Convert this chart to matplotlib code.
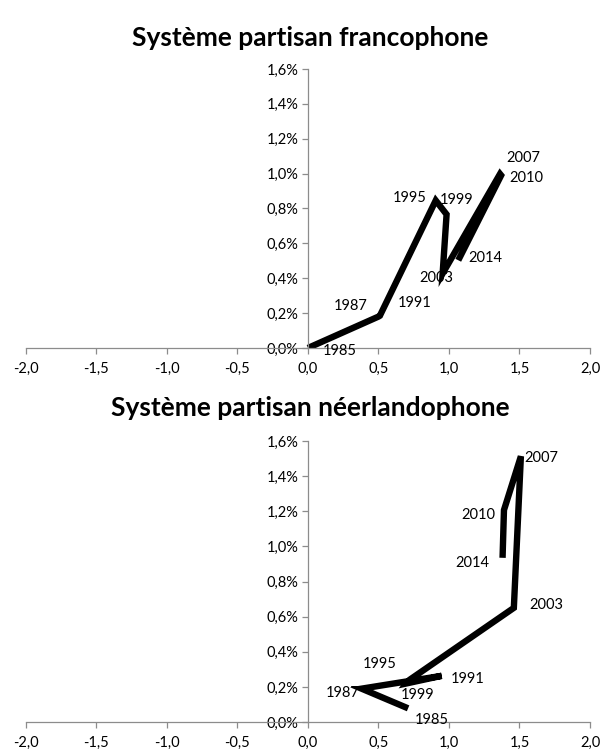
import matplotlib
matplotlib.use("Agg")
import matplotlib.pyplot as plt
from matplotlib.ticker import FuncFormatter

years = ["1985", "1987", "1991", "1995", "1999", "2003", "2007", "2010", "2014"]

fr_x = [0.0, 0.50, 0.51, 0.906, 0.983, 0.955, 1.362, 1.37, 1.066]
fr_y = [0.0, 0.18, 0.185, 0.846, 0.766, 0.427, 0.998, 0.99, 0.503]

nl_x = [0.71, 0.38, 0.948, 0.70, 0.72, 1.46, 1.51, 1.39, 1.38]
nl_y = [0.078, 0.19, 0.263, 0.22, 0.24, 0.65, 1.513, 1.207, 0.935]

titles = ["Système partisan francophone", "Système partisan néerlandophone"]

# label offsets in pixels (dx right, dy down)
fr_off = [(32, 3), (-28, -11), (35, -13), (-26, -2), (10, -14), (-6, 4), (23, -16), (25, 3), (27, -2)]
nl_off = [(24, 12), (-19, 4), (26, 3), (-27, -19), (8, 15), (32, -3), (20, 2), (-26, 5), (-30, 5)]

FONT = "Lato"
plt.rcParams['font.family'] = [FONT, 'DejaVu Sans']

fig = plt.figure(figsize=(6.0, 7.54), dpi=100)
ax1 = fig.add_axes([0.0433, 0.5385, 0.94, 0.370])
ax2 = fig.add_axes([0.0433, 0.0424, 0.94, 0.3727])

yfmt = FuncFormatter(lambda v, p: f"{v:.1f}%".replace(".", ","))
xfmt = FuncFormatter(lambda v, p: f"{v:.1f}".replace(".", ","))

for ax, xs, ys, offs, title, ty in [(ax1, fr_x, fr_y, fr_off, titles[0], 38),
                                    (ax2, nl_x, nl_y, nl_off, titles[1], 408)]:
    ax.plot(xs, ys, color="black", lw=4.6, solid_joinstyle="miter", solid_capstyle="butt")
    for x, y, lab, (dx, dy) in zip(xs, ys, years, offs):
        ax.annotate(lab, (x, y), xytext=(dx, -dy), textcoords="offset pixels",
                    ha="center", va="center", fontsize=10.5, color="black")
    ax.set_xlim(-2, 2)
    ax.set_ylim(0, 1.6)
    ax.set_xticks([-2, -1.5, -1, -0.5, 0, 0.5, 1, 1.5, 2])
    ax.set_yticks([0, 0.2, 0.4, 0.6, 0.8, 1.0, 1.2, 1.4, 1.6])
    ax.xaxis.set_major_formatter(xfmt)
    ax.yaxis.set_major_formatter(yfmt)
    ax.spines['left'].set_position(('data', 0))
    ax.spines['right'].set_visible(False)
    ax.spines['top'].set_visible(False)
    for s in ('left', 'bottom'):
        ax.spines[s].set_color("#8c8c8c")
        ax.spines[s].set_linewidth(0.9)
    ax.tick_params(axis='both', direction='out', length=4, width=0.9, color="#8c8c8c",
                   labelsize=10.5, labelcolor="black")
    ax.tick_params(axis='x', pad=6)
    ax.tick_params(axis='y', pad=3)
    ax.patch.set_visible(False)
    fig.text(310 / 600, 1 - ty / 754, title, ha="center", va="center",
             fontsize=19, fontweight="bold")

fig.savefig("out.png", dpi=100)
